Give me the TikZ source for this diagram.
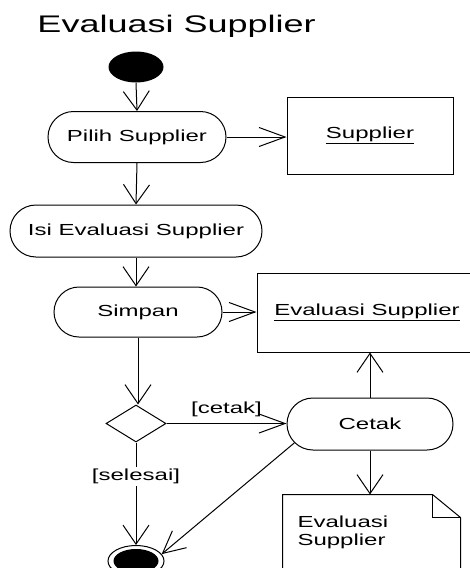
\documentclass[tikz,border=0pt]{standalone}
\usepackage{fontspec}
\setmainfont{Liberation Sans}[FakeStretch=1.5]
\usepackage{tikz}
\usetikzlibrary{shapes.geometric,shapes.misc,arrows.meta}

\begin{document}
\begin{tikzpicture}[x=1pt,y=-1pt,line width=1pt,
    font=\fontsize{16}{18}\selectfont,
    aksi/.style={draw,rounded rectangle,rounded rectangle arc length=180,inner sep=0pt},
    objek/.style={draw,rectangle,inner sep=0pt},
    keputusan/.style={draw,diamond,inner sep=0pt,minimum width=60pt,minimum height=37pt},
    awal/.style={ellipse,fill=black,inner sep=0pt,minimum width=55pt,minimum height=31pt},
    panahv/.style={-{Straight Barb[length=19pt,width=26pt]}},
    panahh/.style={-{Straight Barb[length=26pt,width=19pt]}},
    panahd/.style={-{Straight Barb[length=22pt,width=22pt]}}]
			\useasboundingbox (0,0) rectangle (470,568);
			\clip (0,0) rectangle (470,568);
			\node[anchor=base west,inner sep=0pt,font=\fontsize{24}{28}\selectfont] (judul) at (37,32) {Evaluasi Supplier};
			\node[awal] (mulai) at (136,67) {};
			\node[aksi,minimum width=178pt,minimum height=51pt] (pilih) at (137,137) {Pilih Supplier};
			\node[objek,minimum width=166pt,minimum height=77pt] (supplier) at (370,135.5) {\underline{Supplier}};
			\node[aksi,minimum width=252pt,minimum height=52pt] (isi) at (136,231) {Isi Evaluasi Supplier};
			\node[aksi,minimum width=168pt,minimum height=50pt] (simpan) at (138,312) {Simpan};
			\node[objek,minimum width=220pt,minimum height=79pt] (evaluasi) at (367,312.5) {\underline{Evaluasi Supplier}};
			\node[keputusan] (pilihan) at (136,423.5) {};
			\node[aksi,minimum width=166pt,minimum height=52pt] (cetak) at (370,424) {Cetak};
			\node[minimum width=177pt,minimum height=80pt,inner sep=0pt] (dokumen) at (371.5,535) {};
			\node[anchor=north west,inner sep=0pt,align=left] (dokumenteks) at (297,515) {Evaluasi\\Supplier};
			\node[ellipse,draw,inner sep=0pt,minimum width=56pt,minimum height=31pt] (selesai) at (136,561) {};
			\node[awal,minimum width=45pt,minimum height=24pt] (selesaiin) at (136,561) {};
			% dokumen dengan sudut terlipat
			\draw (dokumen.south west) -- (dokumen.north west) -- ([xshift=-28pt]dokumen.north east)
				-- ([yshift=-23pt]dokumen.north east) -- (dokumen.south east);
			\draw ([xshift=-28pt]dokumen.north east) -- ([xshift=-28pt,yshift=-23pt]dokumen.north east)
				-- ([yshift=-23pt]dokumen.north east);
			% alur
			\draw[panahv] (mulai.south) -- (pilih.north);
			\draw[panahh] (pilih.east) -- (pilih.east -| supplier.west);
			\draw[panahv] (pilih.south) -- (isi.north);
			\draw[panahv] (isi.south) -- (isi.south |- simpan.north);
			\draw[panahh] (simpan.east) -- (simpan.east -| evaluasi.west);
			\draw[panahv] (simpan.south) -- (simpan.south |- pilihan.north);
			\draw[panahh] (pilihan.east) -- (pilihan.east -| cetak.west)
				node[pos=0.5,above=3pt] (guardcetak) {[cetak]};
			\draw[panahv] (pilihan.south) -- (selesai.north)
				node[pos=0.33,fill=white,inner sep=2pt] (guardselesai) {[selesai]};
			\draw[panahv] (cetak.north) -- (cetak.north |- evaluasi.south);
			\draw[panahv] (cetak.south) -- (cetak.south |- dokumen.north);
			\draw[panahd] (cetak.194) -- (selesai.15);
		\end{tikzpicture}
\end{document}
